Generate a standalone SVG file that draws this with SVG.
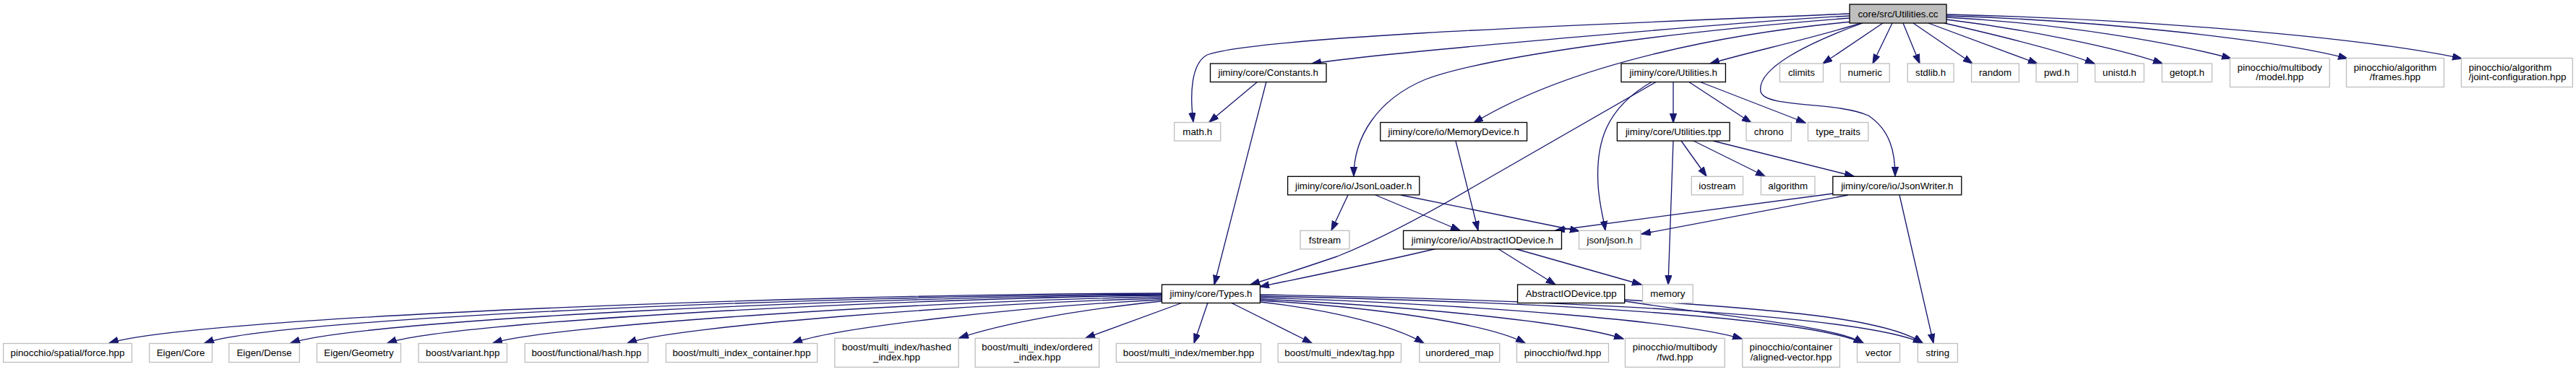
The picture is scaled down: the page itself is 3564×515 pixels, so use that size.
<svg xmlns="http://www.w3.org/2000/svg" width="3564" height="515" viewBox="0 0 3564 515">
<style>
text{font-family:"Liberation Sans",Arial,sans-serif;font-size:13.33px;fill:#000;text-anchor:middle}
text.l{text-anchor:start}
.d rect{fill:#fff;stroke:#000;stroke-width:1.33}
.s rect{fill:#fff;stroke:#bfbfbf;stroke-width:1.33}
.r rect{fill:#bfbfbf;stroke:#000;stroke-width:1.33}
#edges path{fill:none;stroke:#191970;stroke-width:1.33;marker-end:url(#a)}
</style>
<defs>
<marker id="a" markerUnits="userSpaceOnUse" viewBox="0 0 14 10" markerWidth="14" markerHeight="10" refX="13" refY="4.67" orient="auto">
<path d="M0,0 L13.3,4.67 L0,9.33 z" fill="#191970" stroke="#191970" stroke-width="1"/>
</marker>
</defs>
<rect width="3564" height="515" fill="#fff"/>
<g id="edges">
<path d="M2559,19 C2250,32 1740,50 1670,76 C1648,88 1646,130 1651,169"/>
<path d="M2559,22 C2450,27 1920,72 1815,88"/>
<path d="M2559,25 C2300,45 2050,80 1972,110 C1905,138 1873,190 1873,244"/>
<path d="M2563,30 C2400,45 2180,85 2039,170"/>
<path d="M2575,32 C2500,55 2420,72 2366,88"/>
<path d="M2605,32 L2522,88"/>
<path d="M2618,32 L2591,88"/>
<path d="M2633,32 L2656,88"/>
<path d="M2647,32 L2729,88"/>
<path d="M2668,32 L2819,88"/>
<path d="M2690,32 C2760,48 2850,70 2898,88"/>
<path d="M2693,27 C2800,40 2930,66 2992,88"/>
<path d="M2693,24 C2850,32 3010,60 3087,81"/>
<path d="M2693,22 C2900,28 3150,55 3248,81"/>
<path d="M2693,20 C2950,26 3260,50 3406,81"/>
<path d="M2577,32 C2500,60 2430,95 2436,127 C2442,150 2540,140 2585,160 C2615,180 2622,210 2622,244"/>
<path d="M1740,113 L1673,169"/>
<path d="M1752,113 L1680,394"/>
<path d="M2315,113 L2315,170"/>
<path d="M2336,113 L2423,170"/>
<path d="M2351,113 L2498,170"/>
<path d="M2286,113 C2220,150 2208,200 2211,255 C2212,280 2218,300 2221,319"/>
<path d="M2292,113 L2045,255 C1960,305 1900,335 1850,355 C1800,372 1760,385 1730,394"/>
<path d="M2315,195 L2308,394"/>
<path d="M2326,195 L2361,244"/>
<path d="M2343,195 L2442,244"/>
<path d="M2370,195 L2565,244"/>
<path d="M2014,195 L2045,319"/>
<path d="M1865,270 L1842,319"/>
<path d="M1903,270 L2020,319"/>
<path d="M1938,270 L2185,320"/>
<path d="M2536,268 L2152,319"/>
<path d="M2557,270 L2271,324"/>
<path d="M2628,270 L2675,475"/>
<path d="M1988,344 C1900,365 1800,385 1743,397"/>
<path d="M2072,344 L2152,394"/>
<path d="M2095,344 L2271,394"/>
<path d="M2248,417 C2400,440 2540,452 2578,475"/>
<path d="M2248,415 C2450,428 2610,440 2660,475"/>
<path d="M1607,406 C1100,407 260,440 151,475"/>
<path d="M1607,407 C1150,409 380,440 283,475"/>
<path d="M1607,408 C1200,411 500,442 402,475"/>
<path d="M1607,409 C1250,413 620,445 536,475"/>
<path d="M1607,411 C1300,416 760,450 682,475"/>
<path d="M1607,413 C1350,420 930,452 868,475"/>
<path d="M1607,415 C1400,425 1150,455 1097,475"/>
<path d="M1607,417 C1480,430 1380,450 1327,468"/>
<path d="M1636,419 L1502,468"/>
<path d="M1671,419 L1652,475"/>
<path d="M1703,419 L1815,475"/>
<path d="M1743,418 C1850,430 1930,452 1970,475"/>
<path d="M1743,416 C1900,425 2060,448 2110,475"/>
<path d="M1743,414 C1950,424 2170,445 2246,469"/>
<path d="M1743,412 C2050,422 2330,445 2410,469"/>
<path d="M1743,410 C2150,418 2500,440 2578,475"/>
<path d="M1743,408 C2200,416 2580,438 2660,475"/>
</g>
<g id="n0" class="r"><rect x="2559" y="6" width="134" height="26"/><text x="2626" y="23.5">core/src/Utilities.cc</text></g>
<g id="n1" class="d"><rect x="1674.5" y="88" width="160.5" height="25.5"/><text x="1754.7" y="105.3">jiminy/core/Constants.h</text></g>
<g id="n2" class="d"><rect x="2243" y="88" width="144.4" height="25.5"/><text x="2315.2" y="105.3">jiminy/core/Utilities.h</text></g>
<g id="n3" class="s"><rect x="2462.4" y="88" width="60.1" height="25.5"/><text x="2492.4" y="105.3">climits</text></g>
<g id="n4" class="s"><rect x="2546.2" y="88" width="68.1" height="25.5"/><text x="2580.2" y="105.3">numeric</text></g>
<g id="n5" class="s"><rect x="2639.2" y="88" width="63.9" height="25.5"/><text x="2671.1" y="105.3">stdlib.h</text></g>
<g id="n6" class="s"><rect x="2727.6" y="88" width="65.8" height="25.5"/><text x="2760.5" y="105.3">random</text></g>
<g id="n7" class="s"><rect x="2817.1" y="88" width="57.4" height="25.5"/><text x="2845.8" y="105.3">pwd.h</text></g>
<g id="n8" class="s"><rect x="2898.6" y="88" width="67.7" height="25.5"/><text x="2932.4" y="105.3">unistd.h</text></g>
<g id="n9" class="s"><rect x="2991.2" y="88" width="69.2" height="25.5"/><text x="3025.8" y="105.3">getopt.h</text></g>
<g id="n10" class="s"><rect x="3085.3" y="80.5" width="137.7" height="40"/><text x="3154.1" y="97.5">pinocchio/multibody</text><text x="3154.1" y="111">/model.hpp</text></g>
<g id="n11" class="s"><rect x="3246.4" y="80.5" width="134.9" height="40"/><text x="3313.8" y="97.5">pinocchio/algorithm</text><text x="3313.8" y="111">/frames.hpp</text></g>
<g id="n12" class="s"><rect x="3405.4" y="80.5" width="153.9" height="40"/><text class="l" x="3415.5" y="97.5">pinocchio/algorithm</text><text class="l" x="3415.5" y="111">/joint-configuration.hpp</text></g>
<g id="n13" class="s"><rect x="1624.7" y="169.5" width="64" height="25.5"/><text x="1656.7" y="186.8">math.h</text></g>
<g id="n14" class="d"><rect x="1909.8" y="169.5" width="202.8" height="25.5"/><text x="2011.2" y="186.8">jiminy/core/io/MemoryDevice.h</text></g>
<g id="n15" class="d"><rect x="2237.4" y="169.5" width="155.7" height="25.5"/><text x="2315.2" y="186.8">jiminy/core/Utilities.tpp</text></g>
<g id="n16" class="s"><rect x="2416" y="169.5" width="62.4" height="25.5"/><text x="2447.2" y="186.8">chrono</text></g>
<g id="n17" class="s"><rect x="2501.4" y="169.5" width="83.4" height="25.5"/><text x="2543.1" y="186.8">type_traits</text></g>
<g id="n18" class="d"><rect x="1781.6" y="244.3" width="182.2" height="25.5"/><text x="1872.7" y="261.6">jiminy/core/io/JsonLoader.h</text></g>
<g id="n19" class="s"><rect x="2340.3" y="244.3" width="71.2" height="25.5"/><text x="2375.9" y="261.6">iostream</text></g>
<g id="n20" class="s"><rect x="2436.4" y="244.3" width="74.6" height="25.5"/><text x="2473.7" y="261.6">algorithm</text></g>
<g id="n21" class="d"><rect x="2535.8" y="244.3" width="178" height="25.5"/><text x="2624.8" y="261.6">jiminy/core/io/JsonWriter.h</text></g>
<g id="n22" class="s"><rect x="1799" y="319.3" width="68" height="25.5"/><text x="1833" y="336.6">fstream</text></g>
<g id="n23" class="d"><rect x="1941.6" y="319.3" width="218.9" height="25.5"/><text x="2051" y="336.6">jiminy/core/io/AbstractIODevice.h</text></g>
<g id="n24" class="s"><rect x="2184.6" y="319.3" width="85.4" height="25.5"/><text x="2227.3" y="336.6">json/json.h</text></g>
<g id="n25" class="d"><rect x="1607.5" y="394" width="135.9" height="25.5"/><text x="1675.5" y="411.3">jiminy/core/Types.h</text></g>
<g id="n26" class="d"><rect x="2099.6" y="394" width="148.1" height="25.5"/><text x="2173.7" y="411.3">AbstractIODevice.tpp</text></g>
<g id="n27" class="s"><rect x="2272.6" y="394" width="69.6" height="25.5"/><text x="2307.4" y="411.3">memory</text></g>
<g id="n28" class="s"><rect x="4.6" y="475.5" width="177.9" height="26"/><text x="93.5" y="493">pinocchio/spatial/force.hpp</text></g>
<g id="n29" class="s"><rect x="206.6" y="475.5" width="86.9" height="26"/><text x="250" y="493">Eigen/Core</text></g>
<g id="n30" class="s"><rect x="316.8" y="475.5" width="97.6" height="26"/><text x="365.6" y="493">Eigen/Dense</text></g>
<g id="n31" class="s"><rect x="438.5" y="475.5" width="116" height="26"/><text x="496.5" y="493">Eigen/Geometry</text></g>
<g id="n32" class="s"><rect x="579" y="475.5" width="122.4" height="26"/><text x="640.2" y="493">boost/variant.hpp</text></g>
<g id="n33" class="s"><rect x="726.3" y="475.5" width="170.3" height="26"/><text x="811.4" y="493">boost/functional/hash.hpp</text></g>
<g id="n34" class="s"><rect x="921.4" y="475.5" width="209.3" height="26"/><text x="1026" y="493">boost/multi_index_container.hpp</text></g>
<g id="n35" class="s"><rect x="1154.9" y="468.3" width="171.4" height="40"/><text x="1240.6" y="485.3">boost/multi_index/hashed</text><text x="1240.6" y="498.8">_index.hpp</text></g>
<g id="n36" class="s"><rect x="1349.2" y="468.3" width="171.5" height="40"/><text x="1435" y="485.3">boost/multi_index/ordered</text><text x="1435" y="498.8">_index.hpp</text></g>
<g id="n37" class="s"><rect x="1544.4" y="475.5" width="200.1" height="26"/><text x="1644.5" y="493">boost/multi_index/member.hpp</text></g>
<g id="n38" class="s"><rect x="1768.2" y="475.5" width="170.3" height="26"/><text x="1853.3" y="493">boost/multi_index/tag.hpp</text></g>
<g id="n39" class="s"><rect x="1963.8" y="475.5" width="111" height="26"/><text x="2019.3" y="493">unordered_map</text></g>
<g id="n40" class="s"><rect x="2098.5" y="475.5" width="127" height="26"/><text x="2162" y="493">pinocchio/fwd.hpp</text></g>
<g id="n41" class="s"><rect x="2248.5" y="468.3" width="137.7" height="40"/><text x="2317.3" y="485.3">pinocchio/multibody</text><text x="2317.3" y="498.8">/fwd.hpp</text></g>
<g id="n42" class="s"><rect x="2410.7" y="468.3" width="134.7" height="40"/><text x="2478" y="485.3">pinocchio/container</text><text x="2478" y="498.8">/aligned-vector.hpp</text></g>
<g id="n43" class="s"><rect x="2569.5" y="475.5" width="59" height="26"/><text x="2599" y="493">vector</text></g>
<g id="n44" class="s"><rect x="2653.3" y="475.5" width="55.1" height="26"/><text x="2680.8" y="493">string</text></g>
</svg>
